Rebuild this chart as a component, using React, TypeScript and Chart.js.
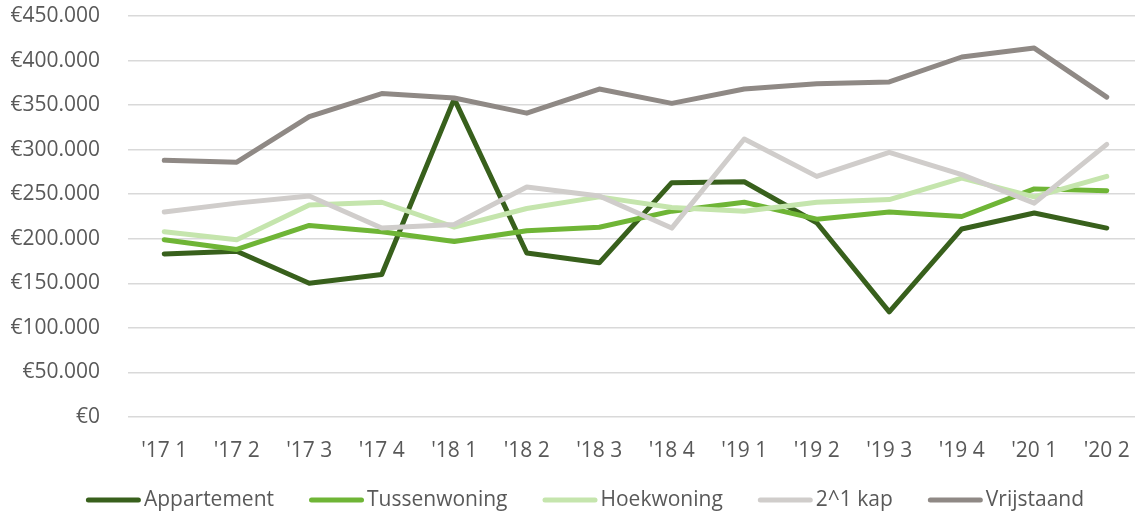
import React, { useEffect, useRef } from "react";
import { Chart, registerables } from "chart.js";

Chart.register(...registerables);

const categories = ["'17 1", "'17 2", "'17 3", "'17 4", "'18 1", "'18 2", "'18 3", "'18 4", "'19 1", "'19 2", "'19 3", "'19 4", "'20 1", "'20 2"];
const appartement = [183000, 186000, 150000, 160000, 357000, 184000, 173000, 263000, 264000, 218000, 118000, 211000, 229000, 212000];
const tussenwoning = [199000, 188000, 215000, 208000, 197000, 209000, 213000, 231000, 241000, 222000, 230000, 225000, 256000, 254000];
const hoekwoning = [208000, 199000, 238000, 241000, 213000, 234000, 247000, 235000, 231000, 241000, 244000, 268000, 247000, 270000];
const tweeOnderEenKap = [230000, 240000, 248000, 212000, 216000, 258000, 248000, 212000, 312000, 270000, 297000, 272000, 240000, 306000];
const vrijstaand = [288000, 286000, 337000, 363000, 358000, 341000, 368000, 352000, 368000, 374000, 376000, 404000, 414000, 359000];
const seriesNames = ["Appartement", "Tussenwoning", "Hoekwoning", "2^1 kap", "Vrijstaand"];
const seriesColors = ["#38601c", "#6fb536", "#c5e5ad", "#d0cdcb", "#8f8985"];
const yMax = 450000;
const yStep = 50000;

const FONT = "'Open Sans', 'Noto Sans', sans-serif";
const TEXT = "#595959";

function fmt(v: number): string {
  return "€" + String(Math.round(v)).replace(/\B(?=(\d{3})+(?!\d))/g, ".");
}

const legendPlugin = {
  id: "customLegend",
  afterDraw(chart: any) {
    const ctx = chart.ctx;
    ctx.save();
    ctx.font = `21px ${FONT}`;
    const lineLen = 55;
    const gapText = 3;
    const gapItem = 35;
    const widths = seriesNames.map((n) => ctx.measureText(n).width);
    const total = widths.reduce((a, w) => a + lineLen + gapText + w, 0) + gapItem * (seriesNames.length - 1);
    let x = 585 - total / 2;
    const y = 500;
    seriesNames.forEach((name, i) => {
      ctx.strokeStyle = seriesColors[i];
      ctx.lineWidth = 5;
      ctx.lineCap = "round";
      ctx.beginPath();
      ctx.moveTo(x + 2.5, y);
      ctx.lineTo(x + lineLen - 2.5, y);
      ctx.stroke();
      ctx.fillStyle = TEXT;
      ctx.textAlign = "left";
      ctx.textBaseline = "middle";
      ctx.fillText(name, x + lineLen + gapText, y);
      x += lineLen + gapText + widths[i] + gapItem;
    });
    ctx.restore();
  },
};

export default function App() {
  const ref = useRef<HTMLCanvasElement | null>(null);
  useEffect(() => {
    if (!ref.current) return;
    const all = [appartement, tussenwoning, hoekwoning, tweeOnderEenKap, vrijstaand];
    const chart = new Chart(ref.current, {
      type: "line",
      data: {
        labels: categories,
        datasets: all.map((d, i) => ({
          label: seriesNames[i],
          data: d,
          borderColor: seriesColors[i],
          backgroundColor: seriesColors[i],
          borderWidth: 5,
          borderCapStyle: "round",
          borderJoinStyle: "round",
          pointRadius: 0,
          pointHoverRadius: 0,
          tension: 0,
          fill: false,
          order: all.length - 1 - i,
        })),
      },
      options: {
        responsive: false,
        animation: false,
        layout: { padding: { left: 10, top: 16, right: 0, bottom: 0 } },
        plugins: {
          legend: { display: false },
          tooltip: { enabled: false },
        },
        scales: {
          x: {
            type: "category",
            offset: true,
            grid: { display: false, drawTicks: false },
            border: { display: false },
            ticks: {
              color: TEXT,
              font: { family: FONT, size: 21 },
              padding: 21,
              maxRotation: 0,
              autoSkip: false,
            },
            afterFit(scale: any) {
              scale.height = 98;
              scale.paddingLeft = 0;
              scale.paddingRight = 0;
            },
          },
          y: {
            min: 0,
            max: yMax,
            grid: { color: "#d9d9d9", lineWidth: 1.5, drawTicks: false },
            border: { display: false },
            ticks: {
              stepSize: yStep,
              color: TEXT,
              font: { family: FONT, size: 21 },
              padding: 28,
              callback: (v: any) => fmt(Number(v)),
            },
            afterFit(scale: any) {
              scale.width = 118;
              scale.paddingTop = 0;
              scale.paddingBottom = 0;
            },
          },
        },
      },
      plugins: [legendPlugin],
    } as any);
    return () => chart.destroy();
  }, []);
  return (
    <div style={{ position: "fixed", left: 0, top: 0, width: 1135, height: 515, overflow: "hidden", background: "#fff" }}>
      <canvas ref={ref} width={1143} height={515} style={{ width: 1143, height: 515, display: "block" }} />
    </div>
  );
}
